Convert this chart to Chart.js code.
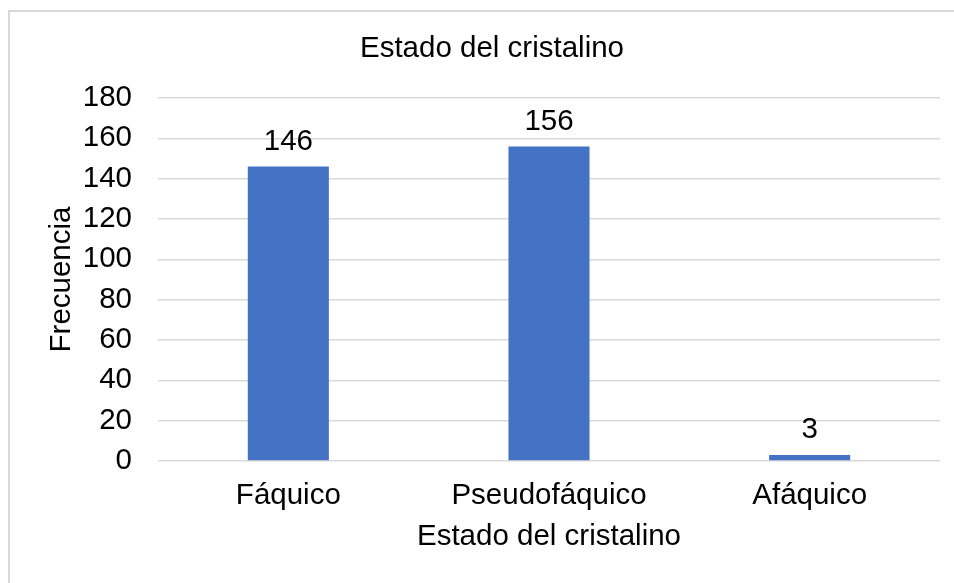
<!DOCTYPE html>
<html>
<head>
<meta charset="utf-8">
<script src="https://cdn.jsdelivr.net/npm/chart.js@4/dist/chart.umd.min.js"></script>
<style>
html, body { margin: 0; padding: 0; background: #fff; }
#wrap { position: relative; width: 954px; height: 583px; overflow: hidden; }
#frame { position: absolute; left: 8px; top: 10px; width: 1000px; height: 700px; border-left: 2px solid #d9d9d9; border-top: 2px solid #d9d9d9; box-sizing: border-box; }
canvas { position: absolute; left: 0; top: 0; }
</style>
</head>
<body>
<div id="wrap">
  <div id="frame"></div>
  <canvas id="c" width="954" height="583"></canvas>
</div>
<script>
const chartTitle = "Estado del cristalino";
const xAxisTitle = "Estado del cristalino";
const yAxisTitle = "Frecuencia";
const categories = ["Fáquico", "Pseudofáquico", "Afáquico"];
const frecuencia = [146, 156, 3];
const yMin = 0, yMax = 180, yStep = 20;

const FONT = "'Liberation Sans', Arial, sans-serif";
const FS = 29.5;

const dataLabels = {
  id: 'dataLabels',
  afterDatasetsDraw(chart) {
    const ctx = chart.ctx;
    const meta = chart.getDatasetMeta(0);
    ctx.save();
    ctx.font = FS + "px " + FONT;
    ctx.fillStyle = "#000";
    ctx.textAlign = "center";
    ctx.textBaseline = "alphabetic";
    meta.data.forEach((bar, i) => {
      ctx.fillText(String(chart.data.datasets[0].data[i]), bar.x, bar.y - 16.5);
    });
    ctx.restore();
  }
};

new Chart(document.getElementById('c'), {
  type: 'bar',
  data: {
    labels: categories,
    datasets: [{
      label: yAxisTitle,
      data: frecuencia,
      backgroundColor: '#4472C4',
      borderWidth: 0,
      categoryPercentage: 1.0,
      barPercentage: 0.311
    }]
  },
  options: {
    responsive: false,
    animation: false,
    devicePixelRatio: 1,
    layout: { padding: { left: 44, right: 14, top: 0, bottom: 28.8 } },
    plugins: {
      legend: { display: false },
      tooltip: { enabled: false },
      title: {
        display: true,
        text: chartTitle,
        color: '#000',
        font: { family: FONT, size: FS, weight: 'normal' },
        padding: { top: 31.6, bottom: 31 }
      }
    },
    scales: {
      x: {
        grid: { display: false, drawTicks: false },
        border: { display: false },
        ticks: { color: '#000', font: { family: FONT, size: FS }, padding: 17.1, maxRotation: 0, autoSkip: false },
        title: { display: true, text: xAxisTitle, color: '#000', font: { family: FONT, size: FS }, padding: { top: 0, bottom: 0 } },
        afterFit(scale) { scale.height = 93.2; }
      },
      y: {
        min: yMin, max: yMax,
        grid: { color: '#d9d9d9', lineWidth: 1.5, drawTicks: false },
        border: { display: false },
        ticks: { stepSize: yStep, color: '#000', font: { family: FONT, size: FS }, padding: 26 },
        title: { display: true, text: yAxisTitle, color: '#000', font: { family: FONT, size: FS }, padding: { top: 0, bottom: 0 } },
        afterFit(scale) { scale.width = 114; }
      }
    }
  },
  plugins: [dataLabels]
});
</script>
</body>
</html>
